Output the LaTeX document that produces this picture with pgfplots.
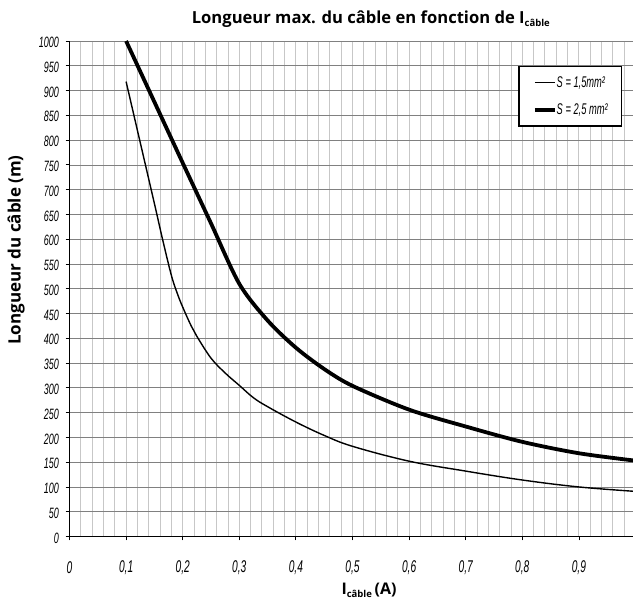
\documentclass[border=0pt]{standalone}
\usepackage{pgfplots}
\pgfplotsset{compat=1.18}
\usepackage{fontspec}
\setmainfont{Liberation Sans}
\newfontfamily\titlefont{Open Sans}
\newfontfamily\tickfont{Liberation Sans}[FakeStretch=0.6]

\begin{document}
\begin{tikzpicture}
\begin{axis}[
  at={(0pt,0pt)}, anchor=south west,
  scale only axis, width=566pt, height=495.5pt,
  xmin=0, xmax=1, ymin=0, ymax=1000,
  axis x line*=bottom, axis y line*=left,
  axis line style={line width=1.6pt, black},
  xtick={0,0.1,0.2,0.3,0.4,0.5,0.6,0.7,0.8,0.9,1},
  xticklabels={0,{0,1},{0,2},{0,3},{0,4},{0,5},{0,6},{0,7},{0,8},{0,9},{}},
  minor x tick num=4,
  ytick={0,50,100,150,200,250,300,350,400,450,500,550,600,650,700,750,800,850,900,950,1000},
  /pgf/number format/assume math mode=true,
  /pgf/number format/1000 sep={},
  tick align=outside,
  major tick length=4pt, minor tick length=0pt,
  tick style={black, line width=0.8pt},
  grid=both,
  major x grid style={color=black!22, line width=0.9pt},
  minor x grid style={color=black!22, line width=0.9pt},
  major y grid style={color=black!50, line width=0.7pt},
  xticklabel style={font=\tickfont\itshape\fontsize{17}{17}\selectfont, anchor=center, yshift=-27pt},
  yticklabel style={font=\tickfont\itshape\fontsize{15}{15}\selectfont, anchor=east, yshift=-1.5pt, xshift=-3pt},
  legend style={at={(0.793,0.950)}, anchor=north west, draw=black, line width=1.2pt,
    fill=white, font=\tickfont\itshape\fontsize{15.5}{15.5}\selectfont,
    inner xsep=14pt, inner ysep=10pt, row sep=15pt,
    nodes={inner sep=0pt},
    /tikz/every even column/.append style={column sep=1pt}},
  legend cell align=left,
  legend image code/.code={\draw[#1] (0pt,0pt) -- (20pt,0pt);},
]
\addplot[black, line width=1.4pt, smooth, tension=0.6] coordinates {
(0.1,918) (0.125,795) (0.15,672) (0.165,597) (0.18,527) (0.19,492) (0.2,463) (0.215,425)
(0.225,404) (0.25,360) (0.275,330) (0.3,305) (0.325,280) (0.35,262) (0.4,231) (0.45,204) (0.5,182)
(0.6,152) (0.7,132) (0.8,114) (0.9,100) (1.0,91)};
\addlegendentry{S = 1,5mm²}
\addplot[black, line width=3.8pt, smooth, tension=0.5] coordinates {
(0.1,1000) (0.15,877) (0.2,754) (0.25,632) (0.3,510) (0.35,436) (0.4,381)
(0.45,338) (0.5,304) (0.6,256) (0.7,222) (0.8,191) (0.9,168) (1.0,153)};
\addlegendentry{S = 2,5 mm²}
\end{axis}
\node[anchor=base west, font=\titlefont\bfseries\fontsize{16.6}{16.6}\selectfont] at (118.8pt,513pt)
  {Longueur max. du câble en fonction de I\raisebox{-3pt}{\fontsize{9.5}{9.5}\selectfont câble}};
\node[anchor=base west, font=\titlefont\bfseries\fontsize{16}{16}\selectfont] at (268.5pt,-58.5pt)
  {I\raisebox{-3pt}{\fontsize{9.5}{9.5}\selectfont câble}\,(A)};
\node[rotate=90, anchor=base, font=\titlefont\bfseries\fontsize{17}{17}\selectfont] at (-48.8pt,286.5pt)
  {Longueur du câble (m)};
\pgfresetboundingbox
\useasboundingbox (-69.5pt,-66.5pt) rectangle (563.5pt,536.5pt);
\end{tikzpicture}
\end{document}
